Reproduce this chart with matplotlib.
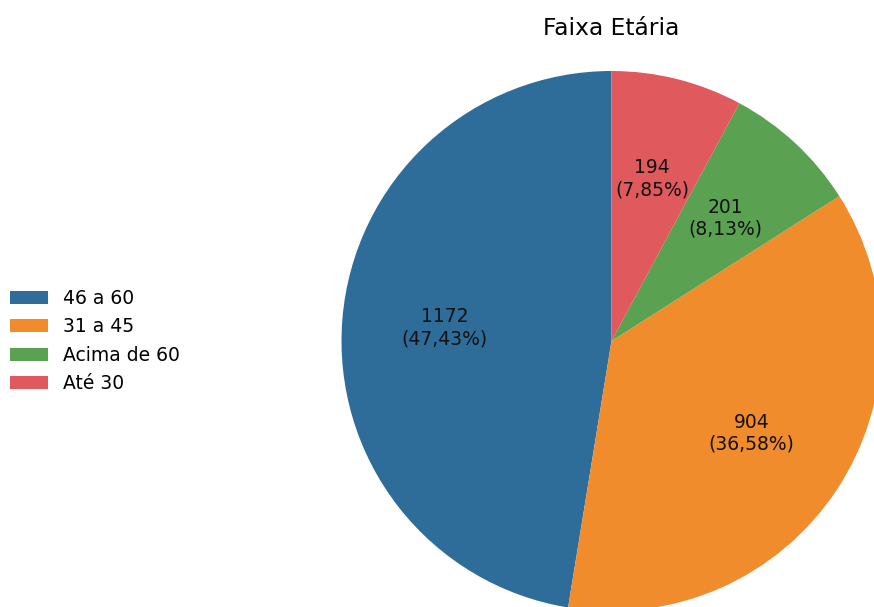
#!/usr/bin/env python3
"""Pie chart: Faixa Etária."""

import matplotlib
matplotlib.use('Agg')
import matplotlib.pyplot as plt

categories = ["46 a 60", "31 a 45", "Acima de 60", "Até 30"]
counts = [1172, 904, 201, 194]
colors = ["#2e6d9a", "#f08c2c", "#5aa152", "#e0595c"]

total = sum(counts)

fig = plt.figure(figsize=(8.74, 6.07), dpi=100)
W, H = 874, 607
cx, cy, r = 611.5, 341, 270
ax = fig.add_axes([(cx - r) / W, (H - cy - r) / H, 2 * r / W, 2 * r / H])


def fmt(pct):
    n = int(round(pct * total / 100))
    return f"{n}\n({pct:.2f}%)".replace(".", ",")


wedges, texts, autotexts = ax.pie(counts, colors=colors, startangle=90,
                                  autopct=fmt, pctdistance=0.62,
                                  textprops={'fontsize': 13.5, 'color': '#111111'})
ax.set_xlim(-1, 1)
ax.set_ylim(-1, 1)
ax.set_aspect('equal')

fig.text(cx / W, 1 - 35 / H, "Faixa Etária", ha='center', va='baseline', fontsize=16.8)

fig.legend(wedges, categories, loc='center left', bbox_to_anchor=(10 / W, 1 - 341 / H),
           frameon=False, fontsize=13.5, borderpad=0, borderaxespad=0,
           labelspacing=0.5, handletextpad=0.85)

fig.savefig("out.png", dpi=100)
